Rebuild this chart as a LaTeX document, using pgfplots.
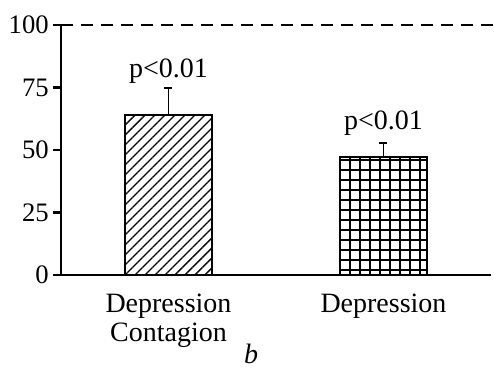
\documentclass[border=0pt]{standalone}
\usepackage{pgfplots}
\pgfplotsset{compat=1.18}
\usepackage{fontspec}
\setmainfont{Liberation Serif}
\usetikzlibrary{patterns.meta}
\begin{document}
\fontsize{21}{22}\selectfont
\begin{tikzpicture}
\begin{axis}[
  scale only axis, width=322.5pt, height=187.5pt,
  xmin=0, xmax=2, ymin=0, ymax=100,
  axis x line*=bottom, axis y line*=left,
  axis line style={-, line width=1.7pt},
  ytick={0,25,50,75,100},
  yticklabel style={font=\fontsize{20}{22}\selectfont, inner sep=3pt},
  xtick={0.5,1.5},
  xticklabels={{Depression\\Contagion},{Depression}},
  xticklabel style={align=center, font=\fontsize{21}{22}\selectfont, yshift=-1pt},
  x tick style={draw=none},
  y tick style={line width=1.7pt, black},
  tick align=outside, major tick length=6pt,
  extra x ticks={0,1,2},
  extra x tick labels={},
  extra x tick style={tick style={draw=black, line width=1.7pt}, major tick length=7.5pt},
  /pgf/number format/assume math mode=true,
  clip=false,
]
\addplot[ybar, bar shift=0pt, bar width=65pt, draw=black, line width=1.8pt,
  pattern={Lines[angle=45, distance=5.3pt, line width=1pt]},
  error bars/.cd, y dir=plus, y explicit,
  error bar style={line width=0.8pt, black}, error mark options={line width=0.8pt, mark size=3pt, rotate=90}]
  coordinates {(0.5,64) +- (0,10.8)};
\addplot[ybar, bar shift=0pt, bar width=65pt, draw=black, line width=1.8pt,
  pattern={Hatch[angle=0, distance=7.5pt, line width=1.4pt]},
  error bars/.cd, y dir=plus, y explicit,
  error bar style={line width=0.8pt, black}, error mark options={line width=0.8pt, mark size=3pt, rotate=90}]
  coordinates {(1.5,47.2) +- (0,5.6)};
\draw[line width=1.7pt, dash pattern=on 9pt off 6pt] (axis cs:0,100) -- (axis cs:2.02,100);
\node[anchor=base] at (axis cs:0.5,78.8) {p<0.01};
\node[anchor=base] at (axis cs:1.5,58) {p<0.01};
\node[anchor=base] at (axis cs:0.884,0) [yshift=-66.75pt] {\textit{b}};
\coordinate (O) at (axis cs:0,0);
\end{axis}
\pgfresetboundingbox
\path[use as bounding box] ([xshift=-45.75pt,yshift=-71.25pt]O) rectangle ([xshift=324.75pt,yshift=206.25pt]O);
\end{tikzpicture}
\end{document}
